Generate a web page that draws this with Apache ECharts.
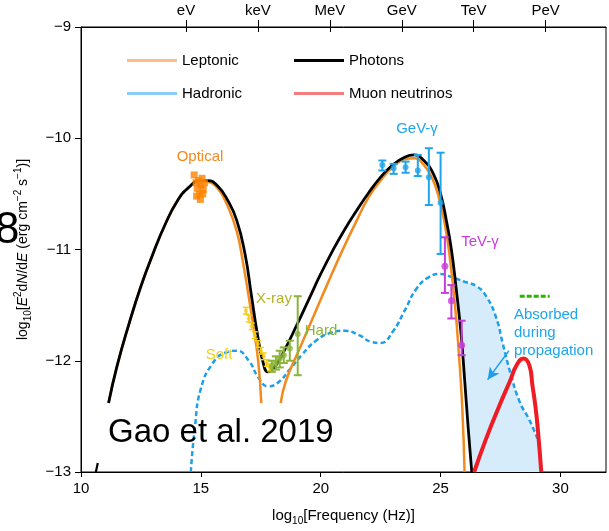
<!DOCTYPE html>
<html><head><meta charset="utf-8">
<script src="https://cdn.jsdelivr.net/npm/echarts@6/dist/echarts.min.js"></script>
<style>html,body{margin:0;padding:0;background:#fff}#c{width:609px;height:531px}</style>
</head><body><div id="c"></div>
<script>
// ---------- data ----------
const energyTicks = [14.38, 17.38, 20.38, 23.38, 26.38, 29.38];
const energyLabels = ['eV', 'keV', 'MeV', 'GeV', 'TeV', 'PeV'];

const photonX = [11.15, 11.5, 12.0, 12.5, 13.0, 13.5, 14.0, 14.5, 15.0, 15.3, 15.7, 16.1, 16.5, 16.85, 17.1, 17.35, 17.6, 17.8, 18.1, 18.5, 19.0, 19.5, 20.0, 20.5, 21.0, 21.5, 22.0, 22.5, 23.0, 23.5, 23.9, 24.3, 24.7, 25.0, 25.25, 25.45, 25.65, 25.85, 26.0, 26.15, 26.3];
const photonY = [-12.38, -12.05, -11.67, -11.33, -11.04, -10.78, -10.57, -10.44, -10.38, -10.38, -10.43, -10.55, -10.74, -11.05, -11.4, -11.75, -12.02, -12.1, -12.05, -11.9, -11.68, -11.45, -11.22, -11.01, -10.82, -10.65, -10.49, -10.35, -10.24, -10.17, -10.15, -10.2, -10.32, -10.5, -10.75, -11.0, -11.35, -11.75, -12.16, -12.6, -13.0];
const photonTailX = [10.62, 10.7];
const photonTailY = [-13.0, -12.92];

const leptonicX1 = [11.15, 11.5, 12.0, 12.5, 13.0, 13.5, 14.0, 14.5, 15.0, 15.3, 15.7, 16.1, 16.5, 16.76, 17.0, 17.2, 17.4, 17.52];
const leptonicY1 = [-12.38, -12.05, -11.67, -11.33, -11.04, -10.78, -10.57, -10.44, -10.38, -10.39, -10.45, -10.6, -10.84, -11.12, -11.43, -11.7, -12.02, -12.38];
const leptonicX2 = [18.33, 18.55, 19.1, 19.7, 20.3, 20.9, 21.5, 22.0, 22.5, 23.0, 23.5, 23.9, 24.3, 24.65, 24.95, 25.2, 25.4, 25.6, 25.75, 25.9, 26.0];
const leptonicY2 = [-12.38, -12.18, -11.9, -11.6, -11.3, -11.01, -10.74, -10.53, -10.38, -10.26, -10.19, -10.18, -10.24, -10.36, -10.55, -10.8, -11.1, -11.5, -11.9, -12.4, -13.0];

const hadronicX = [14.58, 14.75, 15.0, 15.5, 16.0, 16.5, 17.0, 17.4, 17.8, 18.2, 18.7, 19.2, 19.8, 20.4, 21.0, 21.6, 22.1, 22.5, 23.0, 23.5, 24.0, 24.5, 25.0, 25.5, 26.0, 26.5, 26.9, 27.3, 27.6, 27.9, 28.3, 28.7, 29.04];
const hadronicY = [-13.0, -12.6, -12.25, -12.02, -11.93, -11.91, -12.0, -12.15, -12.23, -12.2, -12.08, -11.95, -11.82, -11.75, -11.73, -11.77, -11.83, -11.84, -11.74, -11.55, -11.35, -11.25, -11.22, -11.25, -11.29, -11.33, -11.42, -11.6, -11.85, -12.1, -12.37, -12.53, -12.7];

const absorbedX = [26.3, 26.15, 26.0, 25.85, 25.7, 25.6, 26.0, 26.5, 26.9, 27.3, 27.6, 27.9, 28.3, 28.7, 29.04, 29.2];
const absorbedY = [-13.0, -12.6, -12.16, -11.75, -11.45, -11.25, -11.29, -11.33, -11.42, -11.6, -11.85, -12.1, -12.37, -12.53, -12.7, -13.0];

const neutrinoX = [26.4, 26.9, 27.46, 27.9, 28.17, 28.46, 28.7, 28.83, 28.95, 29.05, 29.2];
const neutrinoY = [-13.0, -12.7, -12.4, -12.18, -12.04, -11.98, -12.04, -12.22, -12.4, -12.6, -13.0];

const sensX = [28.3, 29.55];
const sensY = [-11.42, -11.42];

const opticalX = [14.72, 14.8, 14.85, 14.9, 14.95, 15.0, 15.05, 15.1, 15.15, 14.82, 14.98, 15.08];
const opticalY = [-10.33, -10.4, -10.45, -10.38, -10.5, -10.42, -10.36, -10.46, -10.4, -10.52, -10.55, -10.5];

const softX = [16.88, 17.0, 17.12, 17.25, 17.38, 17.5, 17.62, 17.75, 17.88];
const softY = [-11.55, -11.62, -11.69, -11.77, -11.85, -11.91, -11.96, -12.02, -12.06];
const softErr = [0.03, 0.03, 0.03, 0.03, 0.03, 0.03, 0.03, 0.03, 0.03];

const hardX = [17.96, 18.13, 18.29, 18.46, 18.71, 19.04];
const hardY = [-12.05, -12.02, -11.98, -11.95, -11.89, -11.76];
const hardLo = [-12.1, -12.08, -12.06, -12.02, -12.0, -12.13];
const hardHi = [-12.0, -11.96, -11.91, -11.88, -11.82, -11.42];

const gevX = [22.57, 23.04, 23.54, 24.05, 24.51, 25.0];
const gevY = [-10.24, -10.27, -10.26, -10.29, -10.35, -10.58];
const gevLo = [-10.29, -10.32, -10.31, -10.34, -10.6, -11.04];
const gevHi = [-10.2, -10.23, -10.21, -10.15, -10.09, -10.13];

const tevX = [25.18, 25.45, 25.88];
const tevY = [-11.15, -11.46, -11.86];
const tevLo = [-11.39, -11.62, -11.95];
const tevHi = [-10.89, -11.32, -11.64];

const arrowFrom = [27.85, -11.91];
const arrowTo = [26.96, -12.17];

// ---------- helpers ----------
const FONT = "'Liberation Sans', Arial, Helvetica, sans-serif";
const zip = (xs, ys) => xs.map((x, i) => [x, ys[i]]);
const errData = (xs, lo, hi) => xs.map((x, i) => [x, lo[i], hi[i]]);
function errSeries(name, xs, lo, hi, color, cap, width) {
  return {
    type: 'custom', name: name, z: 6, silent: true,
    data: errData(xs, lo, hi),
    renderItem: function (params, api) {
      const a = api.coord([api.value(0), api.value(1)]);
      const b = api.coord([api.value(0), api.value(2)]);
      const st = { stroke: color, lineWidth: width };
      return { type: 'group', children: [
        { type: 'line', shape: { x1: a[0], y1: a[1], x2: b[0], y2: b[1] }, style: st },
        { type: 'line', shape: { x1: a[0] - cap, y1: a[1], x2: a[0] + cap, y2: a[1] }, style: st },
        { type: 'line', shape: { x1: b[0] - cap, y1: b[1], x2: b[0] + cap, y2: b[1] }, style: st }
      ] };
    }
  };
}
function curve(name, xs, ys, color, width, extra) {
  return Object.assign({
    type: 'line', name: name, data: zip(xs, ys), showSymbol: false, symbol: 'none',
    smooth: 0.5, silent: true, lineStyle: { color: color, width: width }, itemStyle: { color: color }
  }, extra || {});
}
const minus = v => String(v).replace('-', '\u2212');

const C_LEP = '#F28A1E', C_HAD = '#1E9FE8', C_NU = '#EE1C24';

const chart = echarts.init(document.getElementById('c'), null, { renderer: 'canvas' });
const legendBase = (name, left, top, color) => ({
  show: true, left: left, top: top, orient: 'horizontal', icon: 'rect', itemWidth: 50, itemHeight: 3,
  itemGap: 0, padding: 0, selectedMode: false,
  textStyle: { fontFamily: FONT, fontSize: 15, color: '#000', padding: [0, 0, 0, 0] },
  data: [{ name: name, itemStyle: { color: color }, icon: 'rect' }]
});

chart.setOption({
  animation: false,
  backgroundColor: '#fff',
  textStyle: { fontFamily: FONT },
  grid: { left: 81, right: 3, top: 27, bottom: 57, show: true, borderColor: '#000', borderWidth: 1 },
  legend: [
    legendBase('Leptonic', 127, 53, '#FBBE85'),
    legendBase('Photons', 294, 53, '#000'),
    legendBase('Hadronic', 127, 86, '#8CCDF4'),
    legendBase('Muon neutrinos', 294, 86, '#F47C7C')
  ],
  xAxis: [
    {
      type: 'value', position: 'bottom', min: 10, max: 31.9, interval: 5,
      axisLine: { show: true, lineStyle: { color: '#000', width: 1 } },
      axisTick: { show: true, inside: false, length: 5, lineStyle: { color: '#000' } },
      axisLabel: { show: true, fontSize: 15, color: '#000', fontFamily: FONT, margin: 9, showMaxLabel: false,
        formatter: v => (Math.abs(v % 5) < 1e-6 ? String(v) : '') },
      splitLine: { show: false },
      name: '{t|log}{s|10}{t|[Frequency (Hz)]}', nameLocation: 'middle', nameGap: 34,
      nameTextStyle: { rich: {
        t: { fontSize: 15, fontFamily: FONT, color: '#000', lineHeight: 20, verticalAlign: 'middle' },
        s: { fontSize: 10, fontFamily: FONT, color: '#000', lineHeight: 20, verticalAlign: 'bottom' } } }
    },
    {
      type: 'value', position: 'top', min: 10, max: 31.9,
      axisLine: { show: true, lineStyle: { color: '#000', width: 1 } },
      axisTick: { show: true, inside: false, length: 7, customValues: energyTicks, lineStyle: { color: '#000' } },
      axisLabel: { show: true, fontSize: 15, color: '#000', fontFamily: FONT, margin: 9, customValues: energyTicks,
        formatter: v => { let bi = 0; energyTicks.forEach((t, i) => { if (Math.abs(t - v) < Math.abs(energyTicks[bi] - v)) bi = i; }); return energyLabels[bi]; } },
      splitLine: { show: false }
    },
    {
      type: 'value', position: 'top', min: 10, max: 31.9,
      axisLine: { show: false },
      axisTick: { show: true, inside: true, length: 5, customValues: energyTicks, lineStyle: { color: '#000' } },
      axisLabel: { show: false },
      splitLine: { show: false }
    }
  ],
  yAxis: {
    type: 'value', min: -13, max: -9, interval: 1,
    axisLine: { show: true, lineStyle: { color: '#000', width: 1 } },
    axisTick: { show: true, inside: false, length: 6, lineStyle: { color: '#000' } },
    axisLabel: { fontSize: 15, color: '#000', fontFamily: FONT, margin: 10, formatter: minus },
    splitLine: { show: false },
    name: '{t|log}{s|10}{t|[}{i|E}{p|2}{t|d}{i|N}{t|/d}{i|E}{t| (erg cm}{p|\u22122}{t| s}{p|\u22121}{t|)]}',
    nameLocation: 'middle', nameRotate: 90, nameGap: 48,
    nameTextStyle: { rich: {
      t: { fontSize: 14, fontFamily: FONT, color: '#000', lineHeight: 20, verticalAlign: 'middle' },
      i: { fontSize: 14, fontFamily: FONT, fontStyle: 'italic', color: '#000', lineHeight: 20, verticalAlign: 'middle' },
      s: { fontSize: 10, fontFamily: FONT, color: '#000', lineHeight: 20, verticalAlign: 'bottom' },
      p: { fontSize: 10, fontFamily: FONT, color: '#000', lineHeight: 20, verticalAlign: 'top' } } }
  },
  series: [
    { type: 'line', name: 'absorbed', data: zip(absorbedX, absorbedY), showSymbol: false, symbol: 'none', smooth: 0.3,
      silent: true, z: 1, lineStyle: { width: 0, opacity: 0 }, areaStyle: { color: '#D7ECFB', opacity: 1, origin: 'start' } },
    curve('Hadronic', hadronicX, hadronicY, C_HAD, 2.5, { z: 2, lineStyle: { color: C_HAD, width: 2.5, type: [5, 3] } }),
    curve('Leptonic', leptonicX1, leptonicY1, C_LEP, 2.5, { z: 3 }),
    curve('Leptonic', leptonicX2, leptonicY2, C_LEP, 2.5, { z: 3 }),
    curve('Photons', photonX, photonY, '#000', 2.8, { z: 4 }),
    curve('Photons', photonTailX, photonTailY, '#000', 2.2, { z: 4, smooth: false }),
    curve('Muon neutrinos', neutrinoX, neutrinoY, C_NU, 4, { z: 5,
      markLine: { silent: true, symbol: ['none', 'arrow'], symbolSize: [9, 12], label: { show: false },
        lineStyle: { color: C_HAD, width: 1.5, type: 'solid' },
        data: [[{ coord: arrowFrom }, { coord: arrowTo }]] } }),
    { type: 'line', name: 'sens', data: zip(sensX, sensY), showSymbol: false, symbol: 'none', silent: true, z: 5,
      lineStyle: { color: '#2DB400', width: 3, type: [5, 2] } },
    { type: 'scatter', name: 'optical', data: zip(opticalX, opticalY), symbol: 'rect', symbolSize: 7, z: 6, silent: true,
      itemStyle: { color: '#FF8200' } },
    errSeries('softErr', softX, softY.map((y, i) => y - softErr[i]), softY.map((y, i) => y + softErr[i]), '#F5CE12', 3, 1.5),
    { type: 'scatter', name: 'soft', data: zip(softX, softY), symbol: 'circle', symbolSize: 4, z: 7, silent: true, itemStyle: { color: '#F5CE12' } },
    errSeries('hardErr', hardX, hardLo, hardHi, '#8AB43A', 4, 2),
    { type: 'scatter', name: 'hard', data: zip(hardX, hardY), symbol: 'circle', symbolSize: 6, z: 7, silent: true, itemStyle: { color: '#8AB43A' } },
    errSeries('gevErr', gevX, gevLo, gevHi, '#1EA5EB', 4, 2),
    { type: 'scatter', name: 'gev', data: zip(gevX, gevY), symbol: 'circle', symbolSize: 6, z: 7, silent: true, itemStyle: { color: '#1EA5EB' } },
    errSeries('tevErr', tevX, tevLo, tevHi, '#C83CDC', 4, 2),
    { type: 'scatter', name: 'tev', data: zip(tevX, tevY), symbol: 'circle', symbolSize: 7, z: 7, silent: true, itemStyle: { color: '#C83CDC' } }
  ],
  graphic: [
    { type: 'text', x: 200, y: 157, z: 20, style: { text: 'Optical', fill: '#F28A1E', font: '15px ' + FONT, align: 'center', verticalAlign: 'middle' } },
    { type: 'text', x: 274, y: 299, z: 20, style: { text: 'X-ray', fill: '#B2B22A', font: '15px ' + FONT, align: 'center', verticalAlign: 'middle' } },
    { type: 'text', x: 321, y: 331, z: 20, style: { text: 'Hard', fill: '#8AB43A', font: '15px ' + FONT, align: 'center', verticalAlign: 'middle' } },
    { type: 'text', x: 219, y: 355, z: 20, style: { text: 'Soft', fill: '#F5CE12', font: '15px ' + FONT, align: 'center', verticalAlign: 'middle' } },
    { type: 'text', x: 417, y: 129, z: 20, style: { text: 'GeV-\u03b3', fill: '#1EA5EB', font: '15px ' + FONT, align: 'center', verticalAlign: 'middle' } },
    { type: 'text', x: 480, y: 242, z: 20, style: { text: 'TeV-\u03b3', fill: '#C83CDC', font: '15px ' + FONT, align: 'center', verticalAlign: 'middle' } },
    { type: 'text', x: 514, y: 306, z: 20, style: { text: 'Absorbed\nduring\npropagation', fill: '#1EA5EB', font: '15px ' + FONT, lineHeight: 18, align: 'left', verticalAlign: 'top' } },
    { type: 'text', x: 108, y: 433, z: 20, style: { text: 'Gao et al. 2019', fill: '#000', font: '33px ' + FONT, align: 'left', verticalAlign: 'middle' } },
    { type: 'text', x: -5, y: 231, z: 20, style: { text: '8', fill: '#000', font: '44px ' + FONT, align: 'left', verticalAlign: 'middle' } }
  ]
});
</script></body></html>
